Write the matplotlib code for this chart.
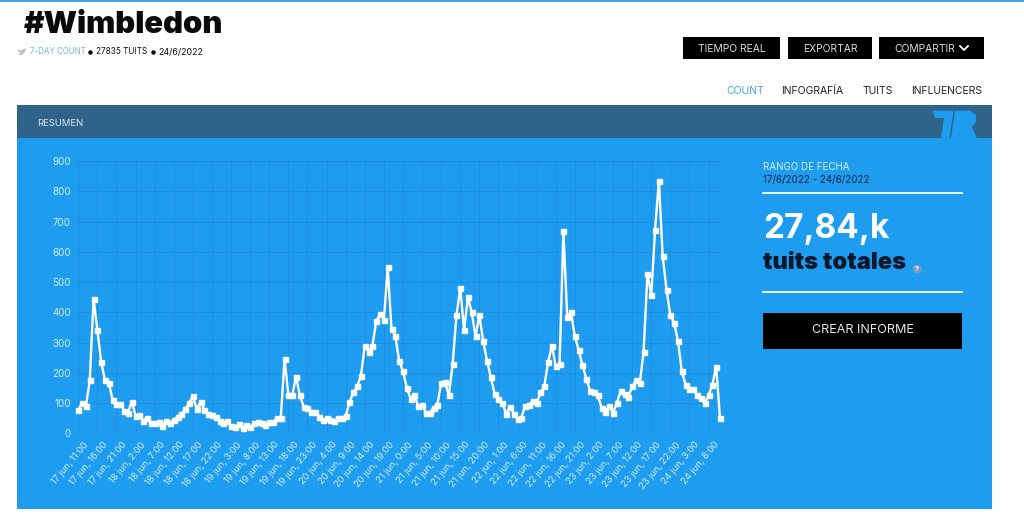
import matplotlib
matplotlib.use("Agg")
import matplotlib.pyplot as plt
from matplotlib.patches import Rectangle, Polygon, Circle
from matplotlib.transforms import ScaledTranslation

plt.rcParams['font.family'] = ['Inter', 'DejaVu Sans']

# hourly tweet counts
tweets = [
    78, 100, 90, 175, 445, 340, 235, 175, 165, 110, 97, 97, 75, 68, 105, 58, 62, 42, 52, 35,
    33, 38, 25, 40, 33, 45, 55, 65, 80, 100, 123, 80, 105, 78, 65, 60, 55, 42, 35, 42,
    25, 22, 30, 18, 28, 20, 33, 37, 35, 28, 38, 37, 50, 50, 245, 128, 125, 187, 125, 88,
    85, 72, 72, 55, 43, 50, 45, 40, 50, 52, 57, 102, 135, 155, 190, 290, 270, 290, 370, 395,
    375, 548, 345, 320, 240, 205, 150, 115, 125, 90, 95, 68, 68, 85, 95, 165, 170, 125, 228, 390,
    480, 340, 450, 400, 320, 390, 305, 240, 185, 130, 115, 100, 65, 88, 65, 48, 52, 90, 95, 108,
    100, 135, 155, 235, 290, 222, 228, 668, 385, 400, 320, 275, 225, 180, 140, 135, 125, 85, 72, 90,
    68, 100, 140, 130, 120, 155, 175, 165, 270, 527, 458, 672, 835, 585, 475, 390, 365, 305, 205, 160,
    145, 145, 125, 118, 100, 125, 160, 220, 50,
]
hour_labels = [
    '17 jun, 11:00', '17 jun, 16:00', '17 jun, 21:00', '18 jun, 2:00', '18 jun, 7:00',
    '18 jun, 12:00', '18 jun, 17:00', '18 jun, 22:00', '19 jun, 3:00', '19 jun, 8:00',
    '19 jun, 13:00', '19 jun, 18:00', '19 jun, 23:00', '20 jun, 4:00', '20 jun, 9:00',
    '20 jun, 14:00', '20 jun, 19:00', '21 jun, 0:00', '21 jun, 5:00', '21 jun, 10:00',
    '21 jun, 15:00', '21 jun, 20:00', '22 jun, 1:00', '22 jun, 6:00', '22 jun, 11:00',
    '22 jun, 16:00', '22 jun, 21:00', '23 jun, 2:00', '23 jun, 7:00', '23 jun, 12:00',
    '23 jun, 17:00', '23 jun, 22:00', '24 jun, 3:00', '24 jun, 8:00',
]
y_ticks = [0, 100, 200, 300, 400, 500, 600, 700, 800, 900]

W, H = 1024, 527
BLUE = '#1e9cf0'
fig = plt.figure(figsize=(W / 100, H / 100), dpi=100, facecolor='white')

# page furniture drawn in pixel coordinates
page = fig.add_axes([0, 0, 1, 1])
page.set_xlim(0, W)
page.set_ylim(H, 0)
page.axis('off')


def box(x0, y0, x1, y1, color):
    page.add_patch(Rectangle((x0, y0), x1 - x0, y1 - y0, facecolor=color, edgecolor='none'))


box(0, 0, W, 1.5, '#3fa4e6')
box(17, 105, 992, 138, '#2f6389')
box(17, 138, 992, 509, BLUE)

page.text(24, 25, '#Wimbledon', fontsize=22.3, fontweight='black', color='#0a0a0a', va='center')
# little bird
page.add_patch(Polygon([(18, 49), (21, 50.5), (24, 48.5), (26.5, 49), (25, 52), (22, 55), (18, 55),
                        (20, 53.5), (18.5, 51.5)], facecolor='#c4c4c4', edgecolor='none'))
page.text(29.5, 52, '7-DAY COUNT', fontsize=5.7, color='#6db6e4', va='center')
page.plot([90, 153], [52, 52], ls='none', marker='o', ms=2.2, color='black')
page.text(96, 52, '27835 TUITS', fontsize=5.9, color='#111111', va='center')
page.text(158, 52, '24/6/2022', fontsize=6.4, color='#111111', va='center')

buttons = [('TIEMPO REAL', 683, 780), ('EXPORTAR', 788, 872), ('COMPARTIR', 879, 984)]
for name, x0, x1 in buttons:
    box(x0, 37, x1, 59, 'black')
    cx = (x0 + x1) / 2 - (7 if name == 'COMPARTIR' else 0)
    page.text(cx, 48.5, name, fontsize=7.4, color='#dddddd', ha='center', va='center')
page.plot([960, 964, 968], [46, 50, 46], color='white', lw=1.3)

tabs = [('COUNT', 745, '#4aa3dc'), ('INFOGRAFÍA', 812.5, '#222222'),
        ('TUITS', 878, '#222222'), ('INFLUENCERS', 947, '#222222')]
for name, cx, col in tabs:
    page.text(cx, 90.5, name, fontsize=7.5, color=col, ha='center', va='center')

page.text(37, 123.5, 'RESUMEN', fontsize=6.8, color='#dbe8f0', va='center')

# logo in the header corner
page.add_patch(Polygon([(933, 110.7), (953.5, 110.7), (949.5, 138), (941, 138), (944, 118), (935, 118)],
                       facecolor=BLUE, edgecolor='none'))
page.add_patch(Polygon([(955, 110.7), (970, 110.7), (976, 115), (976, 122), (972, 127), (977, 138),
                        (951, 138)], facecolor=BLUE, edgecolor='none'))

# side panel
page.text(763, 167.5, 'RANGO DE FECHA', fontsize=7, color='#d4eefd', va='center')
page.text(763, 180.5, '17/6/2022 - 24/6/2022', fontsize=7, color='#06223d', va='center')
page.plot([763, 962], [192.5, 192.5], color='white', lw=1.3)
page.text(763, 229, '27,84,k', fontsize=24, fontweight='bold', color='white', va='center')
page.text(763, 263, 'tuits totales', fontsize=17.1, fontweight='black', color='#04182c', va='center')
page.add_patch(Circle((917, 269), 4.5, facecolor='#6f9fc0', edgecolor='none'))
page.text(917, 269, '?', fontsize=5.5, fontweight='bold', color='white', ha='center', va='center')
page.plot([763, 962], [292, 292], color='white', lw=1.3)
box(763, 313, 962, 349, 'black')
page.text(862.5, 330, 'CREAR INFORME', fontsize=9, color='#e6e6e6', ha='center', va='center')

# the chart itself
left, right, top, bottom = 78.3, 720, 161, 433.3
ax = fig.add_axes([left / W, 1 - bottom / H, (right - left) / W, (bottom - top) / H])
ax.patch.set_alpha(0)
hours = list(range(len(tweets)))
ax.plot(hours, tweets, color='white', lw=1.7, marker='s', ms=3.6, clip_on=False, zorder=3)
ax.set_xlim(0, len(tweets) - 1)
ax.set_ylim(0, 900)
ax.set_yticks(y_ticks)
ax.set_xticks(hours[::5])
ax.set_xticklabels(hour_labels, rotation=50, ha='right', va='top', rotation_mode='anchor')
ax.tick_params(length=0, labelsize=6.7, labelcolor='#d4eefd')
ax.tick_params(axis='x', pad=5)
ax.tick_params(axis='y', pad=5.3, labelsize=7)
shift = ScaledTranslation(5 / 100, 0, fig.dpi_scale_trans)
for lab in ax.get_xticklabels():
    lab.set_transform(lab.get_transform() + shift)
ax.grid(True, color='#1b8cdc', lw=0.6)
ax.set_axisbelow(True)
for side in ax.spines.values():
    side.set_visible(False)

fig.savefig('out.png', dpi=100)
